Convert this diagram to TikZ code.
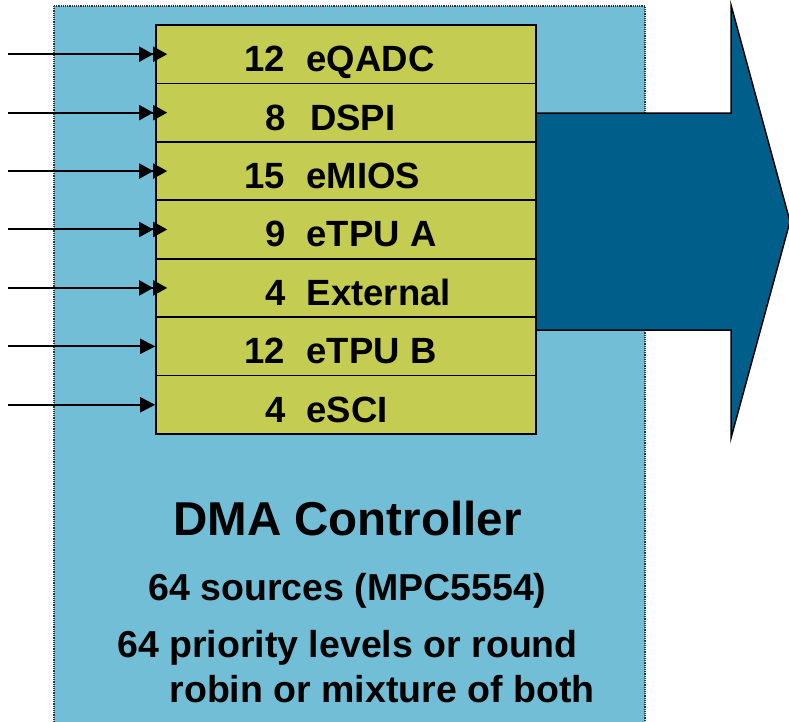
\documentclass[tikz,border=0pt]{standalone}
\usepackage{fontspec}
\setmainfont{Liberation Sans}
\usetikzlibrary{arrows.meta}
\definecolor{boxblue}{RGB}{114,190,214}
\definecolor{cellgreen}{RGB}{196,204,82}
\definecolor{arrowblue}{RGB}{0,95,138}
\tikzset{
  cell/.style={draw=black, line width=1.6pt, fill=cellgreen, minimum width=380pt, minimum height=58.43pt, inner sep=0pt, anchor=center},
  numlab/.style={font=\fontsize{36.5}{40}\selectfont\bfseries, anchor=base east, inner sep=0pt},
  namelab/.style={font=\fontsize{36.5}{40}\selectfont\bfseries, anchor=base west, inner sep=0pt},
  infolab/.style={font=\fontsize{37.5}{42}\selectfont\bfseries, anchor=base, inner sep=0pt},
  titlelab/.style={font=\fontsize{47.5}{52}\selectfont\bfseries, anchor=base, inner sep=0pt},
  inarrow/.style={line width=2pt, -{Triangle[length=15pt,width=15pt]}},
  dblarrow/.style={line width=2pt, -{Triangle[length=14pt,width=15pt]Triangle[length=14pt,width=15pt]}},
}
\begin{document}
\begin{tikzpicture}[x=1pt,y=-1pt]
\useasboundingbox (0,0) rectangle (789,721);
% controller box
\path[fill=boxblue, draw=black!80, densely dotted, line width=1.2pt] (54,6) rectangle (645,740);
% big output arrow
\path[fill=arrowblue, draw=black, line width=1.5pt, line join=miter]
  (536,113) -- (731,113) -- (731,5) -- (790,221.5) -- (731,438) -- (731,330) -- (536,330) -- cycle;
% cells
\foreach \i/\n/\nm/\nx in {0/12/eQADC/306.5, 1/8/DSPI/310, 2/15/eMIOS/306.5, 3/9/eTPU A/306.5, 4/4/External/306.7, 5/12/eTPU B/306.5, 6/4/eSCI/306.5}{
  \pgfmathsetmacro{\ytop}{25+58.43*\i}
  \node[cell] (c\i) at (346,\ytop+29.2) {};
  \node[numlab] (n\i) at (285.5,\ytop+46.7) {\n};
  \node[namelab] (m\i) at (\nx,\ytop+46.7) {\nm};
  \coordinate (s\i) at (8,\ytop+29.2);
}
% input arrows
\foreach \i in {0,1,2,3,4}{
  \draw[dblarrow] (s\i) -- ([xshift=12pt]c\i.west);
}
\foreach \i in {5,6}{
  \draw[inarrow] (s\i) -- (c\i.west);
}
% texts
\node[titlelab] (title) at (347.5,535) {DMA Controller};
\node[infolab] (src) at (347.5,600) {64 sources (MPC5554)};
\node[infolab] (pr1) at (347.5,657) {64 priority levels or round};
\node[infolab] (pr2) at (382,702) {robin or mixture of both};
\end{tikzpicture}
\end{document}
